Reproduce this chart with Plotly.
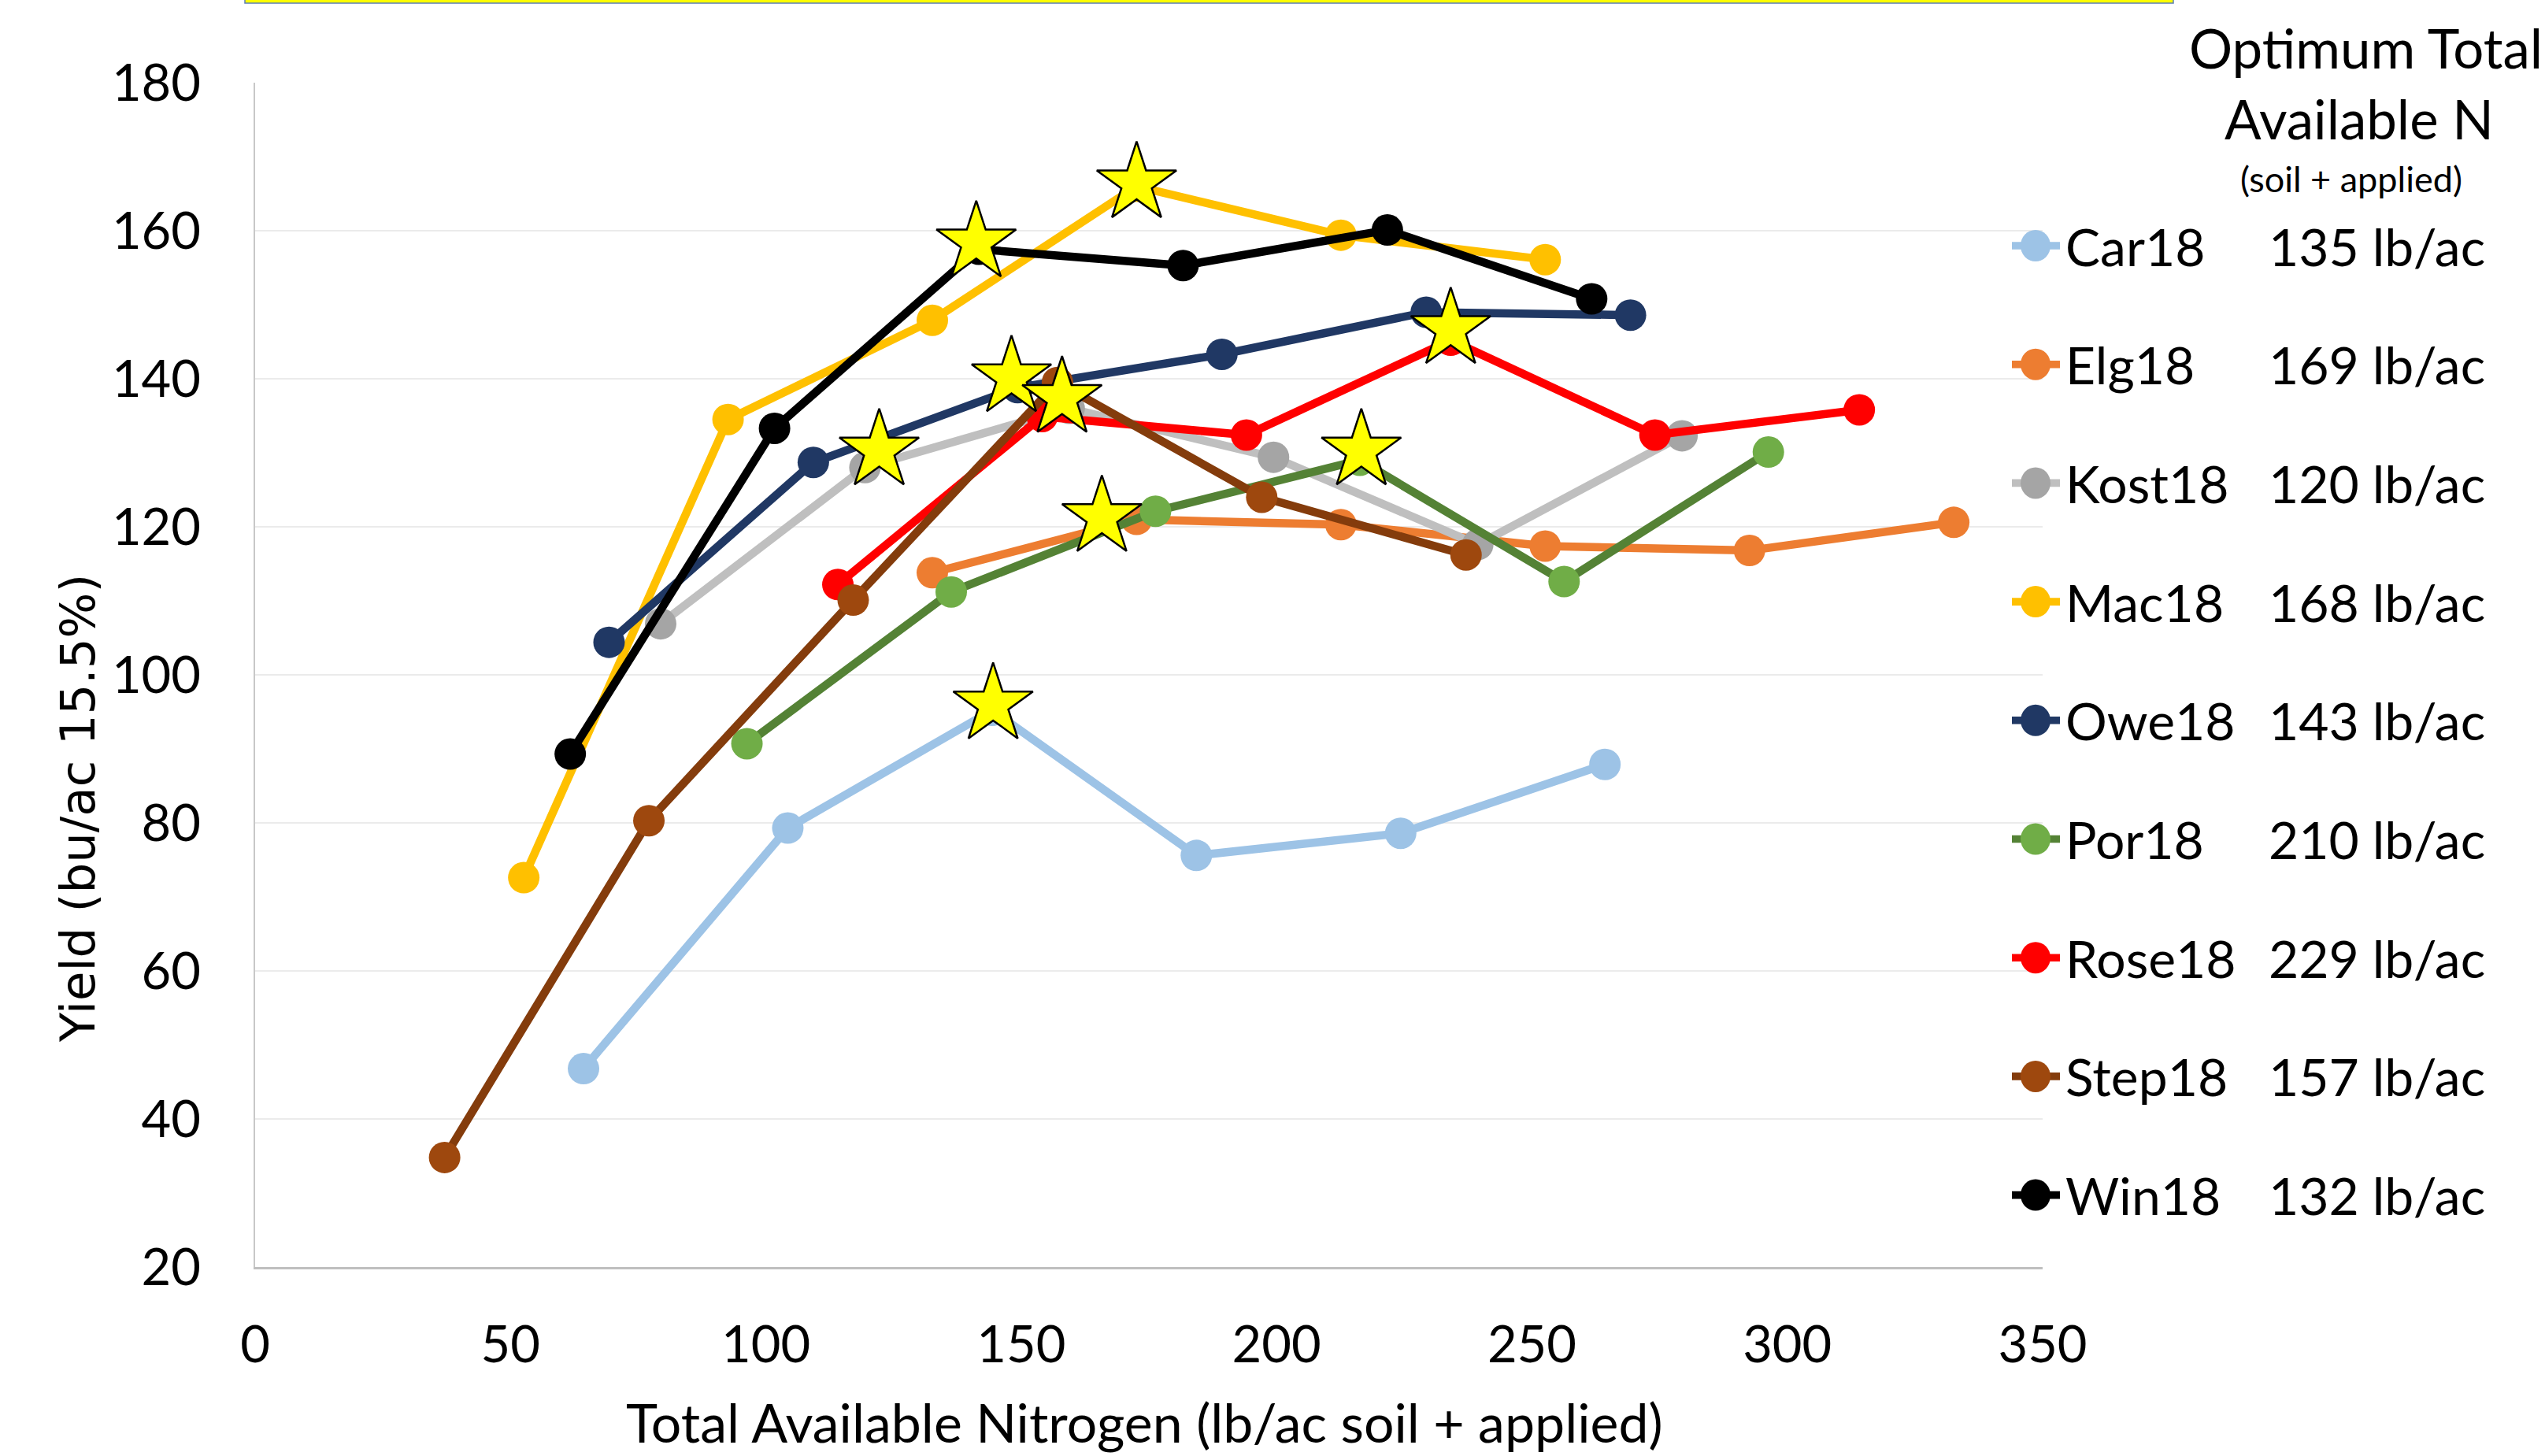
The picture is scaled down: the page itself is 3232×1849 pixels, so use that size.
import plotly.graph_objects as go

# ---------------- data ----------------
series_names = ["Car18", "Elg18", "Kost18", "Mac18", "Owe18", "Por18", "Rose18", "Step18", "Win18"]
optimum_labels = ["135 lb/ac", "169 lb/ac", "120 lb/ac", "168 lb/ac", "143 lb/ac",
                  "210 lb/ac", "229 lb/ac", "157 lb/ac", "132 lb/ac"]

car18_n = [64.3, 104.3, 144.3, 184.3, 224.3, 264.3]
car18_y = [46.8, 79.3, 95.2, 75.6, 78.6, 87.9]
elg18_n = [132.6, 172.6, 212.6, 252.6, 292.6, 332.6]
elg18_y = [113.8, 121.0, 120.3, 117.4, 116.8, 120.6]
kost18_n = [79.4, 119.4, 159.4, 199.4, 239.4, 279.4]
kost18_y = [106.9, 128.0, 136.0, 129.4, 117.6, 132.3]
mac18_n = [52.6, 92.6, 132.6, 172.6, 212.6, 252.6]
mac18_y = [72.6, 134.5, 147.9, 166.0, 159.4, 156.1]
owe18_n = [69.3, 109.3, 149.3, 189.3, 229.3, 269.3]
owe18_y = [104.4, 128.7, 138.8, 143.3, 149.0, 148.6]
por18_n = [96.3, 136.3, 176.3, 216.3, 256.3, 296.3]
por18_y = [90.7, 111.2, 122.1, 129.0, 112.6, 130.1]
rose18_n = [114.1, 154.1, 194.1, 234.1, 274.1, 314.1]
rose18_y = [112.2, 134.9, 132.4, 145.2, 132.4, 135.8]
step18_n = [37.1, 77.1, 117.1, 157.1, 197.1, 237.1]
step18_y = [34.8, 80.3, 110.1, 139.5, 124.0, 116.2]
win18_n = [61.7, 101.7, 141.7, 181.7, 221.7, 261.7]
win18_y = [89.3, 133.3, 157.5, 155.3, 160.1, 150.8]

# optimum stars (Car, Elg, Kost, Mac, Owe, Por, Rose, Step, Win)
star_n = [144.5, 165.8, 122.2, 172.6, 148.1, 216.6, 234.1, 158.0, 141.2]
star_y = [96.0, 121.3, 130.3, 166.4, 140.2, 130.3, 146.7, 137.4, 158.4]

x_ticks = [0, 50, 100, 150, 200, 250, 300, 350]
y_ticks = [20, 40, 60, 80, 100, 120, 140, 160, 180]

# ---------------- style ----------------
all_n = [car18_n, elg18_n, kost18_n, mac18_n, owe18_n, por18_n, rose18_n, step18_n, win18_n]
all_y = [car18_y, elg18_y, kost18_y, mac18_y, owe18_y, por18_y, rose18_y, step18_y, win18_y]
line_colors = ["#9DC3E6", "#ED7D31", "#BFBFBF", "#FFC000", "#203864",
               "#548235", "#FF0000", "#843C0C", "#000000"]
marker_colors = ["#9DC3E6", "#ED7D31", "#A5A5A5", "#FFC000", "#203864",
                 "#70AD47", "#FF0000", "#9E480E", "#000000"]

W, H = 3232, 1849
L, T = 324, 105
R = 638
B = H - 1609
PW = W - L - R
PH = H - T - B


def px(xp):
    """page pixel x -> paper x"""
    return (xp - L) / PW


def py(yp):
    """page pixel y -> paper y"""
    return (H - B - yp) / PH


FONT = "Lato, 'Open Sans', sans-serif"

fig = go.Figure()
for name, n, y, lc, mc in zip(series_names, all_n, all_y, line_colors, marker_colors):
    fig.add_trace(go.Scatter(
        x=n, y=y, mode="lines+markers", name=name,
        line=dict(color=lc, width=10.5),
        marker=dict(color=mc, size=40, line=dict(width=0)),
        showlegend=False))

fig.add_trace(go.Scatter(
    x=star_n, y=star_y, mode="markers", name="Optimum",
    marker=dict(symbol="star", size=76, color="#FFFF00", line=dict(color="black", width=2.5)),
    showlegend=False))

annotations = []
shapes = []

# header on the right
annotations.append(dict(text="Optimum Total", x=px(3004), y=py(61), xref="paper", yref="paper",
                        xanchor="center", yanchor="middle", showarrow=False,
                        font=dict(family=FONT, size=69, color="black")))
annotations.append(dict(text="Available N", x=px(2996), y=py(150), xref="paper", yref="paper",
                        xanchor="center", yanchor="middle", showarrow=False,
                        font=dict(family=FONT, size=69, color="black")))
annotations.append(dict(text="(soil + applied)", x=px(2986), y=py(227), xref="paper", yref="paper",
                        xanchor="center", yanchor="middle", showarrow=False,
                        font=dict(family=FONT, size=45, color="black")))

# manual legend
for i, (name, lab, lc, mc) in enumerate(zip(series_names, optimum_labels, line_colors, marker_colors)):
    yr = 312 + 150.7 * i
    shapes.append(dict(type="line", xref="paper", yref="paper", x0=px(2555), x1=px(2616),
                       y0=py(yr), y1=py(yr), line=dict(color=lc, width=9.6)))
    shapes.append(dict(type="circle", xref="paper", yref="paper", xsizemode="pixel", ysizemode="pixel",
                       xanchor=px(2585), yanchor=py(yr), x0=-19, x1=19, y0=-20, y1=20,
                       fillcolor=mc, line=dict(width=0)))
    annotations.append(dict(text=name, x=px(2621), y=py(yr), xref="paper", yref="paper",
                            xanchor="left", yanchor="middle", showarrow=False,
                            font=dict(family=FONT, size=66, color="black")))
    annotations.append(dict(text=lab, x=px(2879), y=py(yr), xref="paper", yref="paper",
                            xanchor="left", yanchor="middle", showarrow=False,
                            font=dict(family=FONT, size=66, color="black")))

# axis titles
annotations.append(dict(text="Total Available Nitrogen (lb/ac soil + applied)", x=px(1453), y=py(1806),
                        xref="paper", yref="paper", xanchor="center", yanchor="middle", showarrow=False,
                        font=dict(family=FONT, size=68, color="black")))
annotations.append(dict(text="Yield (bu/ac 15.5%)", x=px(98), y=py(1027), xref="paper", yref="paper",
                        xanchor="center", yanchor="middle", showarrow=False, textangle=-90,
                        font=dict(family="DejaVu Sans", size=61, color="black")))

# cropped yellow box edge at top
shapes.append(dict(type="rect", xref="paper", yref="paper", x0=px(311), x1=px(2760),
                   y0=py(4), y1=py(-40), fillcolor="#FFFF00", line=dict(color="#5B7FB5", width=1.5)))

fig.update_layout(
    width=W, height=H, autosize=False,
    margin=dict(l=L, r=R, t=T, b=B),
    paper_bgcolor="white", plot_bgcolor="white",
    font=dict(family=FONT, color="black"),
    annotations=annotations, shapes=shapes,
    showlegend=False,
)
fig.update_xaxes(range=[0, 350], tickvals=x_ticks, showgrid=False, zeroline=False,
                 showline=True, linecolor="#BFBFBF", linewidth=3, ticks="",
                 tickfont=dict(family=FONT, size=65, color="black"), ticklabelstandoff=40)
fig.update_yaxes(range=[20, 180], tickvals=y_ticks, showgrid=True, gridcolor="#EBEBEB", gridwidth=2,
                 zeroline=False, showline=True, linecolor="#C8C8C8", linewidth=2, ticks="",
                 tickfont=dict(family=FONT, size=65, color="black"), ticklabelstandoff=54)

fig.write_html("out.html",
               config={"displayModeBar": False},
               post_script="document.body.style.margin='0';document.body.style.overflow='hidden';")
